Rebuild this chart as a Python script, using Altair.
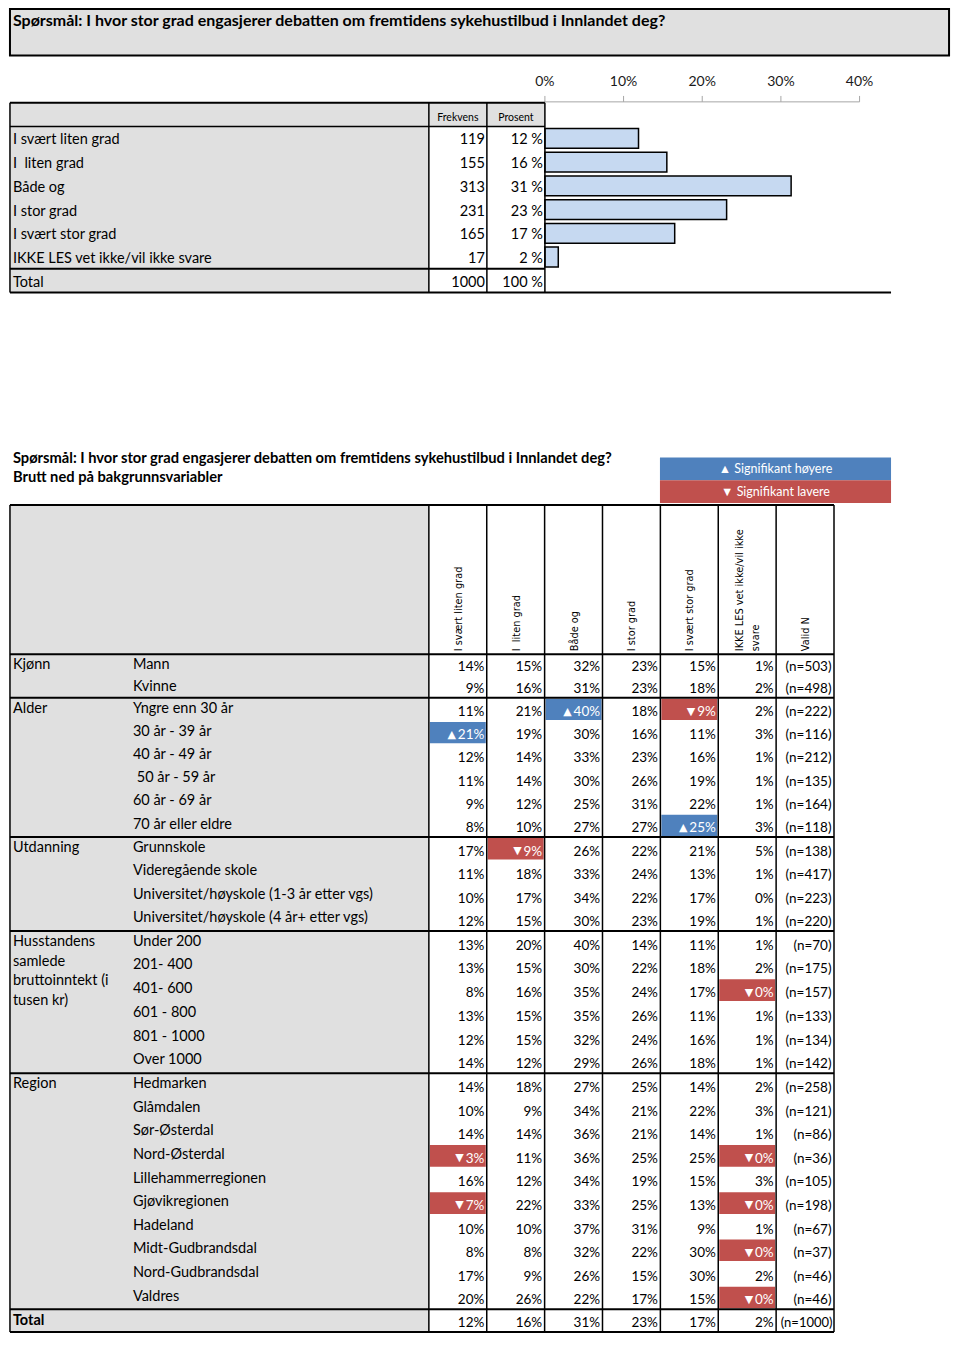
import altair as alt
import pandas as pd

# ---------------- data ----------------
question = "Spørsmål: I hvor stor grad engasjerer debatten om fremtidens sykehustilbud i Innlandet deg?"
answers = ["I svært liten grad", "I  liten grad", "Både og", "I stor grad",
           "I svært stor grad", "IKKE LES vet ikke/vil ikke svare"]
frekvens = [119, 155, 313, 231, 165, 17]
prosent_labels = ["12 %", "16 %", "31 %", "23 %", "17 %", "2 %"]
total_label = "Total"
total_frekvens = 1000
total_prosent_label = "100 %"
top_headers = ["Frekvens", "Prosent"]
axis_ticks = [0, 10, 20, 30, 40]
axis_tick_labels = ["0%", "10%", "20%", "30%", "40%"]

subtitle = "Brutt ned på bakgrunnsvariabler"
legend_up = "▲ Signifikant høyere"
legend_down = "▼ Signifikant lavere"
column_headers = [["I svært liten grad"], ["I  liten grad"], ["Både og"], ["I stor grad"],
                  ["I svært stor grad"], ["IKKE LES vet ikke/vil ikke", "svare"], ["Valid N"]]
group_labels = [["Kjønn"], ["Alder"], ["Utdanning"],
                ["Husstandens", "samlede", "bruttoinntekt (i", "tusen kr)"], ["Region"]]
group_sizes = [2, 6, 4, 6, 10]
row_labels = ["Mann", "Kvinne",
              "Yngre enn 30 år", "30 år - 39 år", "40 år - 49 år", " 50 år - 59 år", "60 år - 69 år", "70 år eller eldre",
              "Grunnskole", "Videregående skole", "Universitet/høyskole (1-3 år etter vgs)",
              "Universitet/høyskole (4 år+ etter vgs)",
              "Under 200", "201- 400", "401- 600", "601 - 800", "801 - 1000", "Over 1000",
              "Hedmarken", "Glåmdalen", "Sør-Østerdal", "Nord-Østerdal", "Lillehammerregionen", "Gjøvikregionen",
              "Hadeland", "Midt-Gudbrandsdal", "Nord-Gudbrandsdal", "Valdres"]
svaert_liten = [14, 9, 11, 21, 12, 11, 9, 8, 17, 11, 10, 12, 13, 13, 8, 13, 12, 14,
                14, 10, 14, 3, 16, 7, 10, 8, 17, 20]
liten = [15, 16, 21, 19, 14, 14, 12, 10, 9, 18, 17, 15, 20, 15, 16, 15, 15, 12,
         18, 9, 14, 11, 12, 22, 10, 8, 9, 26]
baade_og = [32, 31, 40, 30, 33, 30, 25, 27, 26, 33, 34, 30, 40, 30, 35, 35, 32, 29,
            27, 34, 36, 36, 34, 33, 37, 32, 26, 22]
stor = [23, 23, 18, 16, 23, 26, 31, 27, 22, 24, 22, 23, 14, 22, 24, 26, 24, 26,
        25, 21, 21, 25, 19, 25, 31, 22, 15, 17]
svaert_stor = [15, 18, 9, 11, 16, 19, 22, 25, 21, 13, 17, 19, 11, 18, 17, 11, 16, 18,
               14, 22, 14, 25, 15, 13, 9, 30, 30, 15]
ikke_svar = [1, 2, 2, 3, 1, 1, 1, 3, 5, 1, 0, 1, 1, 2, 0, 1, 1, 1,
             2, 3, 1, 0, 3, 0, 1, 0, 2, 0]
valid_n = [503, 498, 222, 116, 212, 135, 164, 118, 138, 417, 223, 220, 70, 175, 157, 133, 134, 142,
           258, 121, 86, 36, 105, 198, 67, 37, 46, 46]
# '+' significantly higher, '-' significantly lower, '.' not significant
sig_marks = ["......", "......",
             "..+.-.", "+.....", "......", "......", "......", "....+.",
             ".-....", "......", "......", "......",
             "......", "......", ".....-", "......", "......", "......",
             "......", "......", "......", "-....-", "......", "-....-", "......", ".....-", "......", ".....-"]
total_values = [12, 16, 31, 23, 17, 2]
total_n = 1000

# ---------------- style / layout ----------------
GRAY = "#e0e0e0"
BLUE = "#4f81bd"
RED = "#c0504d"
BARFILL = "#c6d9f1"
INK = "#000000"
WHITE = "#ffffff"
FONT = "Lato"
LBL = 14.5   # label font size
VAL = 13.5   # value font size
W, H = 944, 1329
REF_W, REF_H = 960, 1345
PCT0_X, PX_PER_PCT = 546, 8.0


def keep_spaces(s):
    """SVG collapses runs of spaces; keep them visible with no-break spaces."""
    s = s.replace("  ", " \u00a0")
    if s.startswith(" "):
        s = "\u00a0" + s[1:]
    return s


def num_width(txt, size):
    """approximate advance width of a Lato number like '40%'"""
    return sum(0.78 if ch == "%" else 0.58 for ch in txt) * size


rects, rules, t_left, t_right, t_center, t_bold, t_rot, t_white, t_tri = [], [], [], [], [], [], [], [], []
bars, pticks, plabels = [], [], []

# ---- top block ----
rects.append(dict(x=2, x2=957, y=1, y2=48, fill=GRAY, stroke=INK, sw=2))
t_bold.append(dict(x=5, y=13, text=question, s=16, c=INK))

L0, L1, L2, L3 = 2, 428, 487, 546
HEAD_TOP, HEAD_BOT, RH = 96, 120, 24
n_ans = len(answers)
rects.append(dict(x=L0, x2=L3, y=HEAD_TOP, y2=HEAD_BOT, fill=GRAY, stroke="transparent", sw=0))
rects.append(dict(x=L0, x2=L1, y=HEAD_BOT, y2=HEAD_BOT + RH * (n_ans + 1), fill=GRAY, stroke="transparent", sw=0))
t_center.append(dict(x=(L1 + L2) / 2, y=111, text=top_headers[0], s=10.5, c=INK))
t_center.append(dict(x=(L2 + L3) / 2, y=111, text=top_headers[1], s=10.5, c=INK))
for i, (a, f, p) in enumerate(zip(answers, frekvens, prosent_labels)):
    top = HEAD_BOT + RH * i
    yc = top + 14
    t_left.append(dict(x=5, y=yc, text=keep_spaces(a), s=LBL, c=INK))
    t_right.append(dict(x=L2 - 2, y=yc, text=str(f), s=LBL, c=INK))
    t_right.append(dict(x=L3 - 2, y=yc, text=p, s=LBL, c=INK))
    bars.append(dict(p0=0, p=f / total_frekvens * 100, y=top + 2, y2=top + 22))
ttop = HEAD_BOT + RH * n_ans
t_left.append(dict(x=5, y=ttop + 14, text=total_label, s=LBL, c=INK))
t_right.append(dict(x=L2 - 2, y=ttop + 14, text=str(total_frekvens), s=LBL, c=INK))
t_right.append(dict(x=L3 - 2, y=ttop + 14, text=total_prosent_label, s=LBL, c=INK))
for yy, sw in [(HEAD_TOP, 2), (HEAD_BOT, 1.5), (ttop, 2)]:
    rules.append(dict(x=L0, x2=L3, y=yy, y2=yy, c=INK, sw=sw))
rules.append(dict(x=L0, x2=898, y=ttop + RH, y2=ttop + RH, c=INK, sw=2))
for xx in [L0, L1, L2, L3]:
    rules.append(dict(x=xx, x2=xx, y=HEAD_TOP, y2=ttop + RH, c=INK, sw=1.5))
# percent axis
pticks.append(dict(p=axis_ticks[0], p2=axis_ticks[-1], y=95, y2=95))
for tk, lab in zip(axis_ticks, axis_tick_labels):
    pticks.append(dict(p=tk, p2=tk, y=89, y2=95))
    plabels.append(dict(p=tk, y=75, text=lab))

# ---- bottom block ----
t_bold.append(dict(x=5, y=456, text=question, s=14.7, c=INK))
t_bold.append(dict(x=5, y=476, text=subtitle, s=14.7, c=INK))
LG0, LG1 = 663, 898
rects.append(dict(x=LG0, x2=LG1, y=455, y2=478, fill=BLUE, stroke="transparent", sw=0))
rects.append(dict(x=LG0, x2=LG1, y=478, y2=501, fill=RED, stroke="transparent", sw=0))
t_white.append(dict(x=(LG0 + LG1) / 2, y=466.5, text=legend_up, s=12.5, c=WHITE))
t_white.append(dict(x=(LG0 + LG1) / 2, y=489.5, text=legend_down, s=12.5, c=WHITE))

B_TOP, B_HEAD = 503, 654
group_bounds = [654, 698, 839, 934, 1078, 1317]
B_END = 1340
C = [428 + k * (840 - 428) / 7 for k in range(8)]
rects.append(dict(x=L0, x2=C[0], y=B_TOP, y2=B_END, fill=GRAY, stroke="transparent", sw=0))
for k, lines in enumerate(column_headers):
    cx = (C[k] + C[k + 1]) / 2
    offs = [0] if len(lines) == 1 else [-8, 8]
    for ln, off in zip(lines, offs):
        t_rot.append(dict(x=cx + off + 1, y=651, text=keep_spaces(ln)))

series = [svaert_liten, liten, baade_og, stor, svaert_stor, ikke_svar]
r = 0
for g, (glines, gsize) in enumerate(zip(group_labels, group_sizes)):
    g0, g1 = group_bounds[g], group_bounds[g + 1]
    rh = (g1 - g0) / gsize
    for k, ln in enumerate(glines):
        t_left.append(dict(x=5, y=g0 + 11 + 20 * k, text=ln, s=LBL, c=INK))
    for j in range(gsize):
        top, bot = g0 + rh * j, g0 + rh * (j + 1)
        lab = row_labels[r]
        indent = 4 if lab.startswith(" ") else 0
        t_left.append(dict(x=127 + indent, y=top + 11, text=lab.strip(), s=LBL, c=INK))
        for k in range(6):
            v = series[k][r]
            mk = sig_marks[r][k]
            txt = f"{v}%"
            xr = C[k + 1] - 2.5
            if mk == ".":
                t_right.append(dict(x=xr, y=bot - 9, text=txt, s=VAL, c=INK))
            else:
                rects.append(dict(x=C[k] + 1, x2=C[k + 1] - 1, y=top + 1, y2=bot - 1,
                                  fill=BLUE if mk == "+" else RED, stroke="transparent", sw=0))
                t_right.append(dict(x=xr, y=bot - 9, text=txt, s=VAL, c=WHITE))
                t_tri.append(dict(x=xr - num_width(txt, VAL) - 2.5, y=bot - 9.5,
                                  text="▲" if mk == "+" else "▼"))
        t_right.append(dict(x=C[7] - 2.5, y=bot - 9, text=f"(n={valid_n[r]})", s=VAL, c=INK))
        r += 1
# total row
t_bold.append(dict(x=5, y=group_bounds[-1] + 12, text=total_label, s=LBL, c=INK))
for k, v in enumerate(total_values):
    t_right.append(dict(x=C[k + 1] - 2.5, y=B_END - 9, text=f"{v}%", s=VAL, c=INK))
t_right.append(dict(x=C[7] - 1.5, y=B_END - 9, text=f"(n={total_n})", s=VAL - 0.5, c=INK))
for yy in [B_TOP, B_HEAD] + group_bounds[1:] + [B_END]:
    rules.append(dict(x=L0, x2=C[7], y=yy, y2=yy, c=INK, sw=2))
for xx in [L0] + C:
    rules.append(dict(x=xx, x2=xx, y=B_TOP, y2=B_END, c=INK, sw=1.5))

# ---------------- chart ----------------
xs = alt.Scale(domain=[0, REF_W], range=[0, W], zero=False, nice=False)
ys = alt.Scale(domain=[0, REF_H], range=[0, H], zero=False, nice=False)
ps = alt.Scale(domain=[(0 - PCT0_X) / PX_PER_PCT, (REF_W - PCT0_X) / PX_PER_PCT],
               range=[0, W], zero=False, nice=False)


def X(f="x"):
    return alt.X(f"{f}:Q", scale=xs, axis=None)


def Y(f="y"):
    return alt.Y(f"{f}:Q", scale=ys, axis=None)


rect_layer = alt.Chart(pd.DataFrame(rects)).mark_rect().encode(
    x=X(), x2="x2:Q", y=Y(), y2="y2:Q",
    fill=alt.Fill("fill:N", scale=None),
    stroke=alt.Stroke("stroke:N", scale=None),
    strokeWidth=alt.StrokeWidth("sw:Q", scale=None))

bar_layer = alt.Chart(pd.DataFrame(bars)).mark_rect(
    fill=BARFILL, stroke=INK, strokeWidth=1.5).encode(
    x=alt.X("p0:Q", scale=ps, axis=None), x2="p:Q", y=Y(), y2="y2:Q")

ptick_layer = alt.Chart(pd.DataFrame(pticks)).mark_rule(color="#a6a6a6", strokeWidth=1).encode(
    x=alt.X("p:Q", scale=ps, axis=None), x2="p2:Q", y=Y(), y2="y2:Q")

plabel_layer = alt.Chart(pd.DataFrame(plabels)).mark_text(
    align="center", baseline="middle", font=FONT, fontSize=14, color="#1a1a1a").encode(
    x=alt.X("p:Q", scale=ps, axis=None), y=Y(), text="text:N")

rule_layer = alt.Chart(pd.DataFrame(rules)).mark_rule().encode(
    x=X(), x2="x2:Q", y=Y(), y2="y2:Q",
    color=alt.Color("c:N", scale=None),
    strokeWidth=alt.StrokeWidth("sw:Q", scale=None))


def text_layer(rows, align, weight="normal"):
    return alt.Chart(pd.DataFrame(rows)).mark_text(
        align=align, baseline="middle", font=FONT, fontWeight=weight).encode(
        x=X(), y=Y(), text="text:N",
        color=alt.Color("c:N", scale=None),
        size=alt.Size("s:Q", scale=None))


tri_layer = alt.Chart(pd.DataFrame(t_tri)).mark_text(
    align="right", baseline="middle", font="DejaVu Sans", fontSize=11, color=WHITE).encode(
    x=X(), y=Y(), text="text:N")

rot_layer = alt.Chart(pd.DataFrame(t_rot)).mark_text(
    align="left", baseline="middle", angle=270, font="DejaVu Sans", fontSize=9.8, color=INK).encode(
    x=X(), y=Y(), text="text:N")

chart = alt.layer(
    rect_layer, bar_layer, ptick_layer, rule_layer, plabel_layer,
    text_layer(t_left, "left"), text_layer(t_right, "right"),
    text_layer(t_center, "center"), text_layer(t_white, "center"),
    text_layer(t_bold, "left", "bold"), tri_layer, rot_layer
).resolve_scale(x="independent").properties(
    width=W, height=H, padding=0, autosize="none"
).configure_view(stroke=None)

chart.save("out.html", embed_options={"renderer": "svg", "actions": False})
